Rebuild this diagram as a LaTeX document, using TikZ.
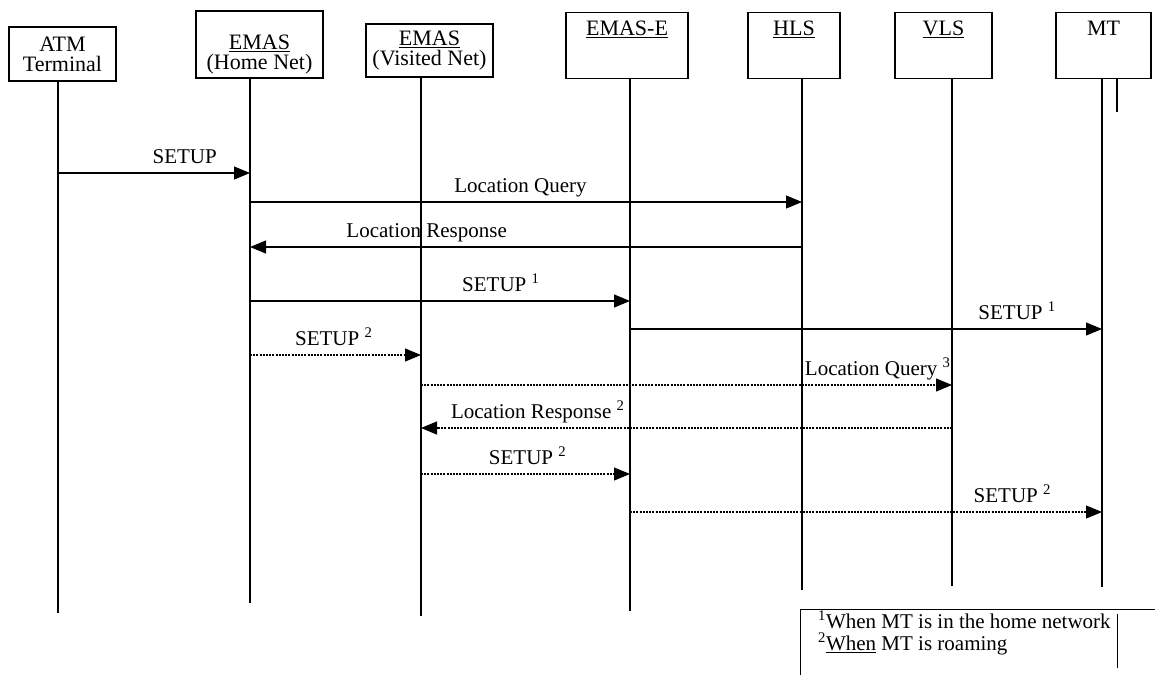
\documentclass[tikz,border=0pt]{standalone}
\usepackage{fontspec}
\setmainfont{Liberation Serif}
\usetikzlibrary{arrows.meta,positioning}

\begin{document}
\begin{tikzpicture}[
  x=1pt,y=-1pt,
  box/.style={draw,line width=1.1pt,align=center,inner xsep=2pt,
    font=\fontsize{22}{20}\selectfont},
  headbox/.style={box,anchor=north,inner ysep=0pt,text height=23pt,text depth=43pt},
  life/.style={line width=1.4pt},
  msg/.style={-{Triangle[length=16pt,width=13pt]},line width=1.1pt},
  optmsg/.style={msg,dash pattern=on 2pt off 1.2pt},
  lbl/.style={font=\fontsize{21}{22}\selectfont,inner sep=0pt,anchor=base,yshift=10pt}
]
  \useasboundingbox (0,0) rectangle (1155,675);

  % entities
  \node[box,minimum width=107pt,minimum height=54pt] (atm) at (62.5,54) {ATM\\Terminal};
  \node[box,minimum width=127pt,minimum height=67pt] (emasH) at (259.5,44.5) {\rule{0pt}{34pt}\underline{EMAS}\\(Home Net)};
  \node[box,minimum width=127pt,minimum height=53pt] (emasV) at (429.5,50.5) {\underline{EMAS}\\(Visited Net)};
  \node[headbox,minimum width=122pt] (emasE) at (627,12) {\underline{EMAS-E}};
  \node[headbox,minimum width=92pt] (hls) at (794,12) {\underline{HLS}};
  \node[headbox,minimum width=97pt] (vls) at (943.5,12) {\underline{VLS}};
  \node[headbox,minimum width=95pt] (mt) at (1103.5,12) {MT};

  % life lines
  \coordinate (atmEnd) at (58,613);
  \coordinate (emasHEnd) at (250,603);
  \coordinate (emasVEnd) at (421,616);
  \coordinate (emasEEnd) at (630,611);
  \coordinate (hlsEnd) at (802,590);
  \coordinate (vlsEnd) at (952,586);
  \coordinate (mtEnd) at (1102,587);
  \coordinate (mtStub) at (1117,112);
  \draw[life] (atm.south -| atmEnd) -- (atmEnd);
  \draw[life] (emasH.south -| emasHEnd) -- (emasHEnd);
  \draw[life] (emasV.south -| emasVEnd) -- (emasVEnd);
  \draw[life] (emasE.south -| emasEEnd) -- (emasEEnd);
  \draw[life] (hls.south -| hlsEnd) -- (hlsEnd);
  \draw[life] (vls.south -| vlsEnd) -- (vlsEnd);
  \draw[life] (mt.south -| mtEnd) -- (mtEnd);
  \draw[life] (mt.south -| mtStub) -- (mtStub);

  % message rows
  \coordinate (r1) at (0,173);
  \coordinate (r2) at (0,202);
  \coordinate (r3) at (0,247);
  \coordinate (r4) at (0,301);
  \coordinate (r5) at (0,329);
  \coordinate (r6) at (0,355);
  \coordinate (r7) at (0,385);
  \coordinate (r8) at (0,428);
  \coordinate (r9) at (0,474);
  \coordinate (r10) at (0,512);

  \draw[msg] (atmEnd |- r1) -- node[lbl,pos=0.66] {SETUP} (emasHEnd |- r1);
  \draw[msg] (emasHEnd |- r2) -- node[lbl,pos=0.49] {Location Query} (hlsEnd |- r2);
  \draw[msg] (hlsEnd |- r3) -- node[lbl,pos=0.68] {Location Response} (emasHEnd |- r3);
  \draw[msg] (emasHEnd |- r4) -- node[lbl,pos=0.66] {SETUP \textsuperscript{1}} (emasEEnd |- r4);
  \draw[msg] (emasEEnd |- r5) -- node[lbl,pos=0.82] {SETUP \textsuperscript{1}} (mtEnd |- r5);
  \draw[optmsg] (emasHEnd |- r6) -- node[lbl,pos=0.49] {SETUP \textsuperscript{2}} (emasVEnd |- r6);
  \draw[optmsg] (emasVEnd |- r7) -- node[lbl,pos=0.86] {Location Query \textsuperscript{3}} (vlsEnd |- r7);
  \draw[optmsg] (vlsEnd |- r8) -- node[lbl,pos=0.78] {Location Response \textsuperscript{2}} (emasVEnd |- r8);
  \draw[optmsg] (emasVEnd |- r9) -- node[lbl,pos=0.51] {SETUP \textsuperscript{2}} (emasEEnd |- r9);
  \draw[optmsg] (emasEEnd |- r10) -- node[lbl,pos=0.81] {SETUP \textsuperscript{2}} (mtEnd |- r10);

  % legend
  \draw[line width=1pt] (800,675) -- (800,609) -- (1155,609);
  \draw[line width=1pt] (1117,614) -- (1117,668);
  \node[lbl,anchor=north west,yshift=0pt,align=left] (legend) at (818,621)
    {\textsuperscript{1}When MT is in the home network\\\textsuperscript{2}\underline{When} MT is roaming};
\end{tikzpicture}
\end{document}
